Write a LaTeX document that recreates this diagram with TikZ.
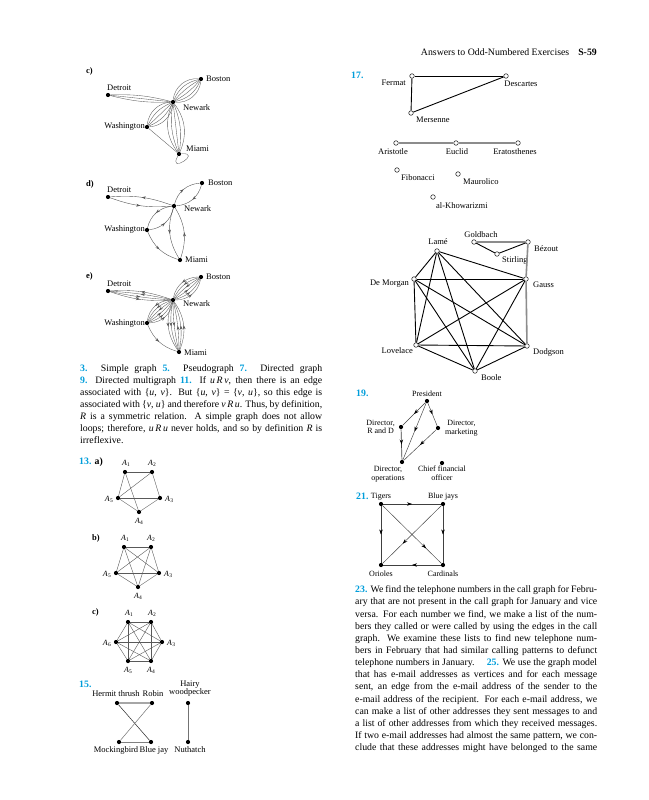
\documentclass[tikz,border=0pt]{standalone}
\usepackage{fontspec}
\setmainfont{Liberation Serif}
\usetikzlibrary{arrows.meta,decorations.markings}
\definecolor{exnum}{RGB}{0,158,219}
\newlength{\colw}\setlength{\colw}{242pt}
\newcommand{\jline}[1]{\makebox[\colw][s]{#1}}
\newcommand{\exn}[1]{\textcolor{exnum}{\textbf{#1}}}
\newcommand{\Asub}[1]{\textit{A}\kern0.3pt\raisebox{-0.35ex}{\fontsize{5.5}{6}\selectfont #1}}
\tikzset{
 vtx/.style={circle,fill=black,inner sep=0pt,minimum size=4.2pt},
 ovtx/.style={circle,draw=black,fill=white,line width=0.45pt,inner sep=0pt,minimum size=4.6pt},
 lbl/.style={font=\fontsize{8.5}{9.5}\selectfont,inner sep=0pt},
 slbl/.style={font=\fontsize{8}{8.6}\selectfont,inner sep=0pt},
 medge/.style={draw=black!65,line width=0.35pt},
 gedge/.style={draw=black!65,line width=0.4pt},
 dedge/.style={draw=black!75,line width=0.45pt},
 bedge/.style={draw=black,line width=0.9pt},
 greyedge/.style={draw=black!45,line width=1.6pt},
 arrowat/.style={postaction={decorate},decoration={markings,mark=at position #1 with {\arrow{Stealth[length=4.2pt,width=2.8pt]}}}},
 arrowat/.default=0.5,
 bigarrowat/.style={postaction={decorate},decoration={markings,mark=at position #1 with {\arrow[black]{Stealth[length=5pt,width=3.4pt]}}}},
 bigarrowat/.default=0.5,
 bodytext/.style={anchor=north west,align=left,inner sep=0pt},
}
\begin{document}
\begin{tikzpicture}[x=1pt,y=-1pt]
\fill[white] (0,0) rectangle (648,800);
\useasboundingbox (0,0) rectangle (648,800);

% ---------- header
\node[font=\fontsize{9.8}{11}\selectfont,anchor=mid east,inner sep=0pt] (hdr) at (597,53) {Answers to Odd-Numbered Exercises\hspace{9pt}\textbf{S-59}};

% ---------- c)
\node[lbl,anchor=mid west] (labc) at (86,71) {\textbf{c)}};
\node[vtx] (cB) at (201,79) {};
\node[vtx] (cD) at (108,95) {};
\node[vtx] (cN) at (173,102) {};
\node[vtx] (cW) at (147,127) {};
\node[vtx] (cM) at (179,154) {};
\node[lbl,anchor=mid west] (cBl) at (206,79) {Boston};
\node[lbl,anchor=mid west] (cDl) at (107,88) {Detroit};
\node[lbl,anchor=mid west] (cNl) at (183,108) {Newark};
\node[lbl,anchor=mid east] (cWl) at (145,126) {Washington};
\node[lbl,anchor=mid west] (cMl) at (186,149) {Miami};
\foreach \b in {-45,-27,-9,9,27,45} \draw[medge] (cN) to[bend left=\b] (cB);
\foreach \b in {-8,0,8} \draw[medge] (cN) to[bend left=\b] (cD);
\foreach \b in {-40,-20,0,20,40} \draw[medge] (cN) to[bend left=\b] (cW);
\foreach \b in {-30,-15,0,15,30} \draw[medge] (cN) to[bend left=\b] (cM);
\draw[medge] (cW) -- (cM);
\draw[medge] (cM) to[out=5,in=-120,min distance=22pt] (cM);

% ---------- d)
\node[lbl,anchor=mid west] (labd) at (86,184) {\textbf{d)}};
\node[vtx] (dB) at (202,183) {};
\node[vtx] (dD) at (108,197) {};
\node[vtx] (dN) at (174,206) {};
\node[vtx] (dW) at (147,230) {};
\node[vtx] (dM) at (180,260) {};
\node[lbl,anchor=mid west] (dBl) at (208,183) {Boston};
\node[lbl,anchor=mid west] (dDl) at (107,190) {Detroit};
\node[lbl,anchor=mid west] (dNl) at (184,209) {Newark};
\node[lbl,anchor=mid east] (dWl) at (145,229) {Washington};
\node[lbl,anchor=mid west] (dMl) at (185,260) {Miami};
\draw[gedge,arrowat] (dN) to[bend right=12] (dD);
\draw[gedge,arrowat] (dD) to[bend right=12] (dN);
\draw[gedge,arrowat] (dN) to[bend left=35] (dB);
\draw[gedge,arrowat] (dB) to[bend left=35] (dN);
\draw[gedge,arrowat] (dN) to[bend right=35] (dW);
\draw[gedge,arrowat] (dW) to[bend right=35] (dN);
\draw[gedge,arrowat] (dN) to[bend right=25] (dM);
\draw[gedge,arrowat] (dM) to[bend right=25] (dN);
\draw[gedge,arrowat] (dW) to[bend right=25] (dM);

% ---------- e)
\node[lbl,anchor=mid west] (labe) at (86,276) {\textbf{e)}};
\node[vtx] (eB) at (201,277) {};
\node[vtx] (eD) at (108,291) {};
\node[vtx] (eN) at (173,300) {};
\node[vtx] (eW) at (147,323) {};
\node[vtx] (eM) at (179,352) {};
\node[lbl,anchor=mid west] (eBl) at (206,277) {Boston};
\node[lbl,anchor=mid west] (eDl) at (107,284) {Detroit};
\node[lbl,anchor=mid west] (eNl) at (183,304) {Newark};
\node[lbl,anchor=mid east] (eWl) at (145,323) {Washington};
\node[lbl,anchor=mid west] (eMl) at (184,353) {Miami};
\foreach \b in {4,11} {
  \draw[medge,arrowat] (eN) to[bend right=\b] (eD);
  \draw[medge,arrowat] (eD) to[bend right=\b] (eN);}
\foreach \b in {8,24,40} {
  \draw[medge,arrowat] (eN) to[bend right=\b] (eB);
  \draw[medge,arrowat] (eB) to[bend right=\b] (eN);
  \draw[medge,arrowat] (eN) to[bend right=\b] (eW);
  \draw[medge,arrowat] (eW) to[bend right=\b] (eN);}
\foreach \b in {6,17,28} {
  \draw[medge,arrowat] (eN) to[bend right=\b] (eM);
  \draw[medge,arrowat] (eM) to[bend right=\b] (eN);}
\draw[medge,arrowat] (eW) to[bend right=25] (eM);

% ---------- left paragraph
\node[bodytext,font=\fontsize{9.8}{12}\selectfont] (para1) at (80,363.1) {%
\jline{\strut\exn{3.} Simple graph \exn{5.} Pseudograph \exn{7.} Directed graph}\\
\jline{\exn{9.} Directed multigraph \exn{11.} If \textit{u\,R\,v}, then there is an edge}\\
\jline{associated with \{\textit{u}, \textit{v}\}. But \{\textit{u}, \textit{v}\} = \{\textit{v}, \textit{u}\}, so this edge is}\\
\jline{associated with \{\textit{v}, \textit{u}\} and therefore \textit{v\,R\,u}. Thus, by definition,}\\
\jline{\textit{R} is a symmetric relation. A simple graph does not allow}\\
\jline{loops; therefore, \textit{u\,R\,u} never holds, and so by definition \textit{R} is}\\
irreflexive.};

% ---------- 13 a)
\node[font=\fontsize{9.8}{11}\selectfont,anchor=mid west,inner sep=0pt] (lab13) at (79,462) {\exn{13.} \textbf{a)}};
\node[vtx] (a1) at (125,472) {};
\node[vtx] (a2) at (152,472) {};
\node[vtx] (a3) at (160,498) {};
\node[vtx] (a4) at (139,512) {};
\node[vtx] (a5) at (118,498) {};
\node[slbl,anchor=mid] (a1l) at (126,463) {\Asub{1}};
\node[slbl,anchor=mid] (a2l) at (152,463) {\Asub{2}};
\node[slbl,anchor=mid west] (a3l) at (165,499) {\Asub{3}};
\node[slbl,anchor=mid] (a4l) at (139,521) {\Asub{4}};
\node[slbl,anchor=mid east] (a5l) at (113,499) {\Asub{5}};
\foreach \u/\v in {a1/a2,a2/a3,a3/a4,a4/a5,a5/a1,a1/a4,a2/a5,a5/a3} \draw[gedge] (\u) -- (\v);

% ---------- 13 b)
\node[lbl,anchor=mid west] (labb) at (92,538) {\textbf{b)}};
\node[vtx] (b1) at (124,547) {};
\node[vtx] (b2) at (151,547) {};
\node[vtx] (b3) at (159,573) {};
\node[vtx] (b4) at (138,587) {};
\node[vtx] (b5) at (116,573) {};
\node[slbl,anchor=mid] (b1l) at (125,538) {\Asub{1}};
\node[slbl,anchor=mid] (b2l) at (151,538) {\Asub{2}};
\node[slbl,anchor=mid west] (b3l) at (164,574) {\Asub{3}};
\node[slbl,anchor=mid] (b4l) at (138,596) {\Asub{4}};
\node[slbl,anchor=mid east] (b5l) at (111,574) {\Asub{5}};
\foreach \u/\v in {b1/b2,b1/b3,b1/b4,b1/b5,b2/b3,b2/b4,b2/b5,b3/b4,b3/b5,b4/b5} \draw[gedge] (\u) -- (\v);

% ---------- 13 c)
\node[lbl,anchor=mid west] (labcc) at (92,612) {\textbf{c)}};
\node[vtx] (k1) at (128,622) {};
\node[vtx] (k2) at (151,622) {};
\node[vtx] (k3) at (162,642) {};
\node[vtx] (k4) at (151,661) {};
\node[vtx] (k5) at (128,661) {};
\node[vtx] (k6) at (116,642) {};
\node[slbl,anchor=mid] (k1l) at (129,613) {\Asub{1}};
\node[slbl,anchor=mid] (k2l) at (152,613) {\Asub{2}};
\node[slbl,anchor=mid west] (k3l) at (167,643) {\Asub{3}};
\node[slbl,anchor=mid] (k4l) at (151,670) {\Asub{4}};
\node[slbl,anchor=mid] (k5l) at (128,670) {\Asub{5}};
\node[slbl,anchor=mid east] (k6l) at (111,643) {\Asub{6}};
\foreach \u/\v in {k1/k2,k1/k3,k1/k4,k1/k5,k1/k6,k2/k3,k2/k4,k2/k5,k2/k6,k3/k4,k3/k5,k3/k6,k4/k5,k4/k6,k5/k6} \draw[gedge] (\u) -- (\v);

% ---------- 15
\node[font=\fontsize{9.8}{11}\selectfont,anchor=mid west,inner sep=0pt] (lab15) at (79,685) {\exn{15.}};
\node[vtx] (ht) at (117,703) {};
\node[vtx] (ro) at (152,703) {};
\node[vtx] (hw) at (188,703) {};
\node[vtx] (mb) at (119,742) {};
\node[vtx] (bj) at (151,742) {};
\node[vtx] (nh) at (188,742) {};
\node[lbl,anchor=mid] (htl) at (116,694) {Hermit thrush};
\node[lbl,anchor=mid] (rol) at (153,694) {Robin};
\node[lbl,anchor=south,align=center,font=\fontsize{8.5}{7.6}\selectfont] (hwl) at (190,697) {Hairy\\woodpecker};
\node[lbl,anchor=mid] (mbl) at (116,750) {Mockingbird};
\node[lbl,anchor=mid] (bjl) at (154,750) {Blue jay};
\node[lbl,anchor=mid] (nhl) at (190,750) {Nuthatch};
\draw[draw=black!35,line width=1.6pt] (ht) -- (ro);
\draw[draw=black!85,line width=0.5pt] (ht) -- (bj);
\draw[draw=black!55,line width=0.5pt] (ro) -- (mb);
\draw[draw=black!50,line width=0.5pt] (mb) -- (bj);
\draw[draw=black!55,line width=0.7pt] (hw) -- (nh);

% ---------- 17
\node[font=\fontsize{9.8}{11}\selectfont,anchor=mid west,inner sep=0pt] (lab17) at (351,76) {\exn{17.}};
\node[ovtx] (fe) at (412,76) {};
\node[ovtx] (de) at (506,76) {};
\node[ovtx] (me) at (411,113) {};
\node[lbl,anchor=mid east] (fel) at (406,83) {Fermat};
\node[lbl,anchor=mid] (del) at (521,84) {Descartes};
\node[lbl,anchor=mid west] (mel) at (416,120) {Mersenne};
\draw[bedge] (fe) -- (de);
\draw[bedge] (fe) -- (me);
\draw[bedge] (me) -- (de);
\node[ovtx] (ar) at (396,143) {};
\node[ovtx] (eu) at (456,143) {};
\node[ovtx] (er) at (518,143) {};
\node[lbl,anchor=mid] (arl) at (393,152) {Aristotle};
\node[lbl,anchor=mid] (eul) at (457,152) {Euclid};
\node[lbl,anchor=mid] (erl) at (515,152) {Eratosthenes};
\draw[greyedge] (ar) -- (eu);
\draw[greyedge] (eu) -- (er);
\node[ovtx] (fi) at (397,170) {};
\node[lbl,anchor=mid west] (fil) at (401,178) {Fibonacci};
\node[ovtx] (ma) at (458,174) {};
\node[lbl,anchor=mid west] (mal) at (463,182) {Maurolico};
\node[ovtx] (ak) at (433,197) {};
\node[lbl,anchor=mid west] (akl) at (436,206) {al-Khowarizmi};

\node[ovtx] (go) at (474,242) {};
\node[ovtx] (bz) at (528,242) {};
\node[ovtx] (st) at (497,254) {};
\node[ovtx] (la) at (437,251) {};
\node[ovtx] (dm) at (414,279) {};
\node[ovtx] (ga) at (526,279) {};
\node[ovtx] (lo) at (416,345) {};
\node[ovtx] (dg) at (527,346) {};
\node[ovtx] (bo) at (475,371) {};
\node[lbl,anchor=mid] (gol) at (481,235) {Goldbach};
\node[lbl,anchor=mid west] (bzl) at (534,249) {Bézout};
\node[lbl,anchor=mid west] (stl) at (502,260) {Stirling};
\node[lbl,anchor=mid] (lal) at (438,242) {Lamé};
\node[lbl,anchor=mid east] (dml) at (409,283) {De Morgan};
\node[lbl,anchor=mid west] (gal) at (533,285) {Gauss};
\node[lbl,anchor=mid east] (lol) at (413,351) {Lovelace};
\node[lbl,anchor=mid west] (dgl) at (533,352) {Dodgson};
\node[lbl,anchor=mid west] (bol) at (481,378) {Boole};
\draw[greyedge] (go) -- (bz);
\draw[greyedge] (bz) -- (ga);
\draw[greyedge] (ga) -- (dg);
\draw[bedge] (go) -- (st);
\draw[bedge] (st) -- (bz);
\foreach \u/\v in {la/dm,la/ga,la/lo,la/bo,la/dg,dm/ga,dm/lo,dm/bo,dm/dg,lo/ga,lo/dg,lo/bo,bo/ga,bo/dg}
  \draw[bedge] (\u) -- (\v);

% ---------- 19
\node[font=\fontsize{9.8}{11}\selectfont,anchor=mid west,inner sep=0pt] (lab19) at (356,394) {\exn{19.}};
\node[vtx] (pr) at (427,401) {};
\node[vtx] (rd) at (401,427) {};
\node[vtx] (mk) at (438,428) {};
\node[vtx] (op) at (402,462) {};
\node[vtx] (cf) at (442,463) {};
\node[slbl,anchor=mid] (prl) at (427,394) {President};
\node[slbl,anchor=east,align=center] (rdl) at (395,427) {Director,\\R and D};
\node[slbl,anchor=west,align=center] (mkl) at (445,428) {Director,\\marketing};
\node[slbl,anchor=north,align=center] (opl) at (388,466) {Director,\\operations};
\node[slbl,anchor=north,align=center] (cfl) at (442,466) {Chief financial\\officer};
\draw[dedge,bigarrowat] (pr) -- (rd);
\draw[dedge,bigarrowat] (pr) -- (mk);
\draw[dedge,bigarrowat] (pr) -- (op);
\draw[dedge,bigarrowat,line width=0.7pt] (rd) -- (op);
\draw[dedge,bigarrowat] (mk) -- (op);

% ---------- 21
\node[font=\fontsize{9.8}{11}\selectfont,anchor=mid west,inner sep=0pt] (lab21) at (356,497) {\exn{21.}};
\node[vtx] (ti) at (381,504) {};
\node[vtx] (bjy) at (443,504) {};
\node[vtx] (or) at (381,565) {};
\node[vtx] (ca) at (443,565) {};
\node[slbl,anchor=mid] (til) at (381,496) {Tigers};
\node[slbl,anchor=mid] (bjyl) at (443,496) {Blue jays};
\node[slbl,anchor=mid] (orl) at (381,574) {Orioles};
\node[slbl,anchor=mid] (cal) at (443,574) {Cardinals};
\draw[dedge,bigarrowat] (ti) -- (bjy);
\draw[dedge,bigarrowat] (ti) -- (or);
\draw[dedge,bigarrowat] (bjy) -- (ca);
\draw[dedge,bigarrowat] (ca) -- (or);
\draw[dedge,bigarrowat=0.74] (ti) -- (ca);
\draw[dedge,bigarrowat=0.66] (bjy) -- (or);

% ---------- right paragraph
\node[bodytext,font=\fontsize{9.8}{12.15}\selectfont] (para2) at (355,584.0) {%
\jline{\strut\exn{23.} We find the telephone numbers in the call graph for Febru-}\\
\jline{ary that are not present in the call graph for January and vice}\\
\jline{versa. For each number we find, we make a list of the num-}\\
\jline{bers they called or were called by using the edges in the call}\\
\jline{graph. We examine these lists to find new telephone num-}\\
\jline{bers in February that had similar calling patterns to defunct}\\
\jline{telephone numbers in January.\quad\ \exn{25.} We use the graph model}\\
\jline{that has e-mail addresses as vertices and for each message}\\
\jline{sent, an edge from the e-mail address of the sender to the}\\
\jline{e-mail address of the recipient. For each e-mail address, we}\\
\jline{can make a list of other addresses they sent messages to and}\\
\jline{a list of other addresses from which they received messages.}\\
\jline{If two e-mail addresses had almost the same pattern, we con-}\\
\jline{clude that these addresses might have belonged to the same}};
\end{tikzpicture}
\end{document}
